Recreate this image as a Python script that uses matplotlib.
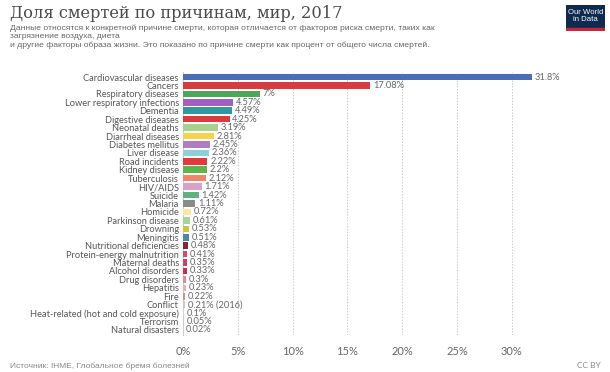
import matplotlib.pyplot as plt
from matplotlib.patches import Rectangle

causes = [
    "Cardiovascular diseases", "Cancers", "Respiratory diseases",
    "Lower respiratory infections", "Dementia", "Digestive diseases",
    "Neonatal deaths", "Diarrheal diseases", "Diabetes mellitus",
    "Liver disease", "Road incidents", "Kidney disease", "Tuberculosis",
    "HIV/AIDS", "Suicide", "Malaria", "Homicide", "Parkinson disease",
    "Drowning", "Meningitis", "Nutritional deficiencies",
    "Protein-energy malnutrition", "Maternal deaths", "Alcohol disorders",
    "Drug disorders", "Hepatitis", "Fire", "Conflict",
    "Heat-related (hot and cold exposure)", "Terrorism", "Natural disasters",
]
shares = [31.8, 17.08, 7, 4.57, 4.49, 4.25, 3.19, 2.81, 2.45, 2.36, 2.22,
          2.2, 2.12, 1.71, 1.42, 1.11, 0.72, 0.61, 0.53, 0.51, 0.48, 0.41,
          0.35, 0.33, 0.3, 0.23, 0.22, 0.21, 0.1, 0.05, 0.02]
notes = {"Conflict": " (2016)"}
colors = [
    "#4a6db5", "#d63c40", "#4ea65a", "#a45ec1", "#2f99a2", "#dc3b3b",
    "#a9d18e", "#f7d24c", "#b07cc2", "#8fd0d8", "#e03a3a", "#5cb44a",
    "#f0856a", "#d9a1cc", "#5cb47f", "#8a8a8a", "#fbe7a0", "#a7d49f",
    "#c9c83c", "#4b88a8", "#8a2238", "#d94a6a", "#cc4262", "#c8304f",
    "#e28c8c", "#e8b3aa", "#c99494", "#e1bcc4", "#d4d4d4", "#cccccc", "#d4d4d4",
]
xticks = [0, 5, 10, 15, 20, 25, 30]

W, H = 610, 372
fig = plt.figure(figsize=(W / 100, H / 100), dpi=100)
fig.patch.set_facecolor("white")

# axes placed in pixel terms: x 0% at 183px, 5% per 54.8px
row = 8.43
top_px = 77 - 0.6 * row
bot_px = 330 + 0.6 * row
left_px = 183
xmax = 33
width_px = xmax * 54.8 / 5
ax = fig.add_axes([left_px / W, 1 - bot_px / H, width_px / W, (bot_px - top_px) / H])

y = list(range(len(causes)))
ax.barh(y, shares, height=0.78, color=colors, zorder=3)
ax.set_ylim(len(causes) - 0.4, -0.6)
ax.set_xlim(0, xmax)

for i, (c, v) in enumerate(zip(causes, shares)):
    ax.text(v + 0.25, i, f"{v:g}%" + notes.get(c, ""), va="center", ha="left",
            fontsize=6.7, color="#666666", family="Lato")

ax.set_yticks(y)
ax.set_yticklabels(causes, fontsize=6.7, color="#555555", family="Lato")
ax.set_xticks(xticks)
ax.set_xticklabels([f"{t}%" for t in xticks], fontsize=8, color="#666666", family="Lato")
ax.tick_params(axis="both", length=0)
ax.tick_params(axis="x", pad=8)
ax.tick_params(axis="y", pad=3)
for t in xticks[1:]:
    ax.axvline(t, color="#cccccc", lw=0.7, ls=(0, (1.5, 1.5)), zorder=1)
for s in ["top", "right", "bottom"]:
    ax.spines[s].set_visible(False)
ax.spines["left"].set_color("#cccccc")
ax.spines["left"].set_linewidth(0.8)

# title block
fig.text(10 / W, 1 - 14 / H, "Доля смертей по причинам, мир, 2017", fontsize=11.7,
         family="DejaVu Serif", color="#4a4a4a", va="center", ha="left")
sub = ("Данные относятся к конкретной причине смерти, которая отличается от факторов риска смерти, таких как\n"
       "загрязнение воздуха, диета\n"
       "и другие факторы образа жизни. Это показано по причине смерти как процент от общего числа смертей.")
fig.text(10 / W, 1 - 25 / H, sub, fontsize=6.1, family="Liberation Sans",
         color="#666666", va="top", ha="left", linespacing=1.2)

# logo
logo = fig.add_axes([566 / W, 1 - 31 / H, 39 / W, 26 / H])
logo.set_xlim(0, 1)
logo.set_ylim(0, 1)
logo.axis("off")
logo.add_patch(Rectangle((0, 0.1), 1, 0.9, color="#0f2a4f"))
logo.add_patch(Rectangle((0, 0), 1, 0.1, color="#c8243a"))
logo.text(0.5, 0.56, "Our World\nin Data", color="white", fontsize=5.6,
          ha="center", va="center", family="Liberation Sans", linespacing=1.0)

# footer
fig.text(10 / W, 1 - 366 / H, "Источник: IHME, Глобальное бремя болезней", fontsize=6,
         family="Liberation Sans", color="#888888", va="center", ha="left")
fig.text(601 / W, 1 - 365 / H, "CC BY", fontsize=6, family="Lato",
         color="#888888", va="center", ha="right")

fig.savefig("out.png", dpi=100)
